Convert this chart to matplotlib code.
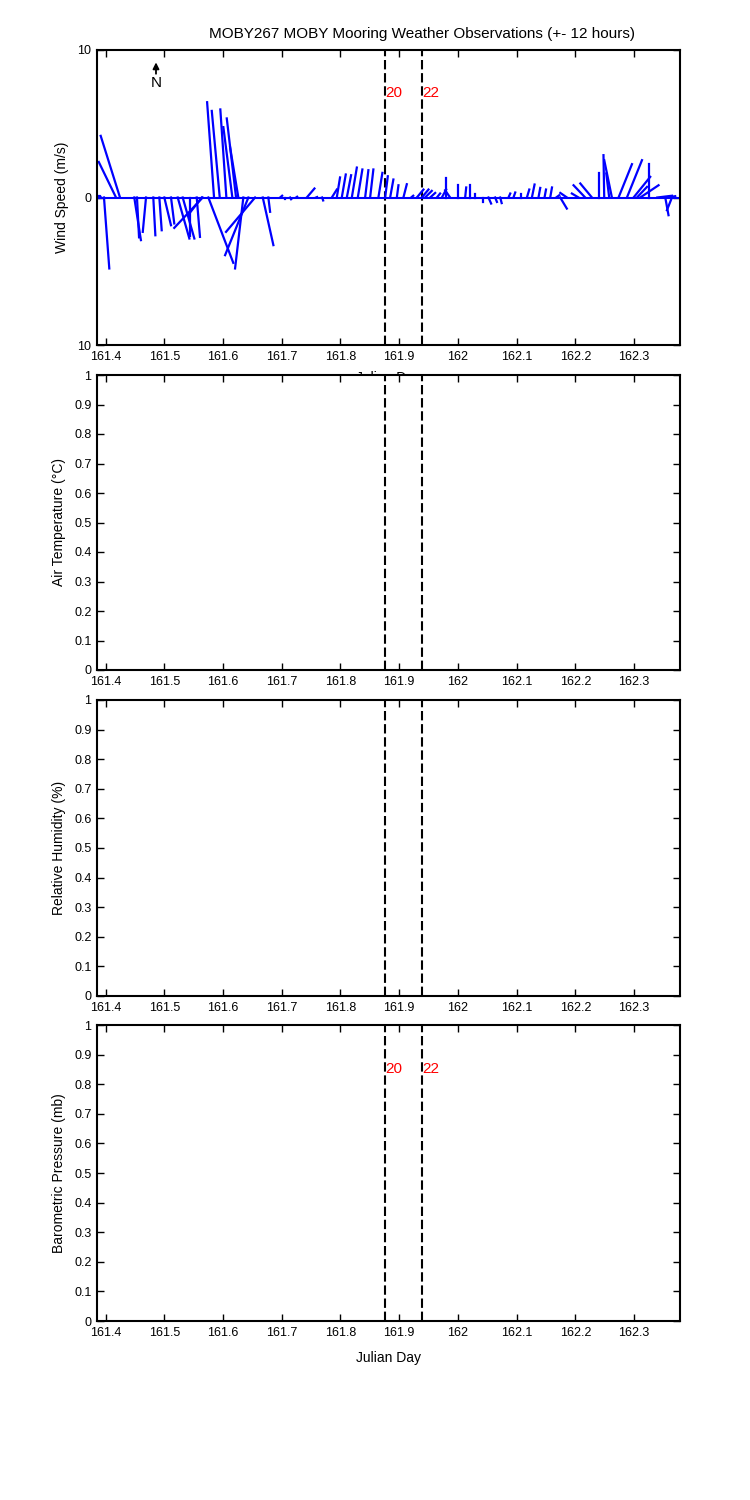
import numpy as np
import matplotlib
matplotlib.use("Agg")
import matplotlib.pyplot as plt

plt.rcParams['font.family'] = ['Liberation Sans', 'DejaVu Sans']

# wind observations: julian day, east (u) and north (v) components in m/s
wind_time = [161.3886, 161.3920, 161.3971, 161.4176, 161.4244, 161.4487, 161.4533,
             161.4687, 161.4811, 161.4914, 161.4999, 161.5113, 161.5227, 161.5312,
             161.5437, 161.5551, 161.5636, 161.5653, 161.5749, 161.5846, 161.5943,
             161.6056, 161.6158, 161.6221, 161.6260, 161.6345, 161.6431, 161.6545,
             161.6676, 161.6771, 161.6971, 161.7056, 161.7141, 161.7244, 161.7363,
             161.7426, 161.7584, 161.7687, 161.7852, 161.7937, 161.8022, 161.8108,
             161.8193, 161.8295, 161.8420, 161.8505, 161.8646, 161.8761, 161.8846,
             161.8960, 161.9072, 161.9204, 161.9301, 161.9386, 161.9442, 161.9528,
             161.9642, 161.9727, 161.9800, 161.9868, 162.0010, 162.0124, 162.0209,
             162.0295, 162.0436, 162.0521, 162.0635, 162.0721, 162.0862, 162.0947,
             162.1079, 162.1176, 162.1261, 162.1373, 162.1476, 162.1573, 162.1675,
             162.1743, 162.1858, 162.2055, 162.2169, 162.2284, 162.2396, 162.2493,
             162.2578, 162.2624, 162.2737, 162.2880, 162.2993, 162.3051, 162.3107,
             162.3248, 162.3397, 162.3533, 162.3584, 162.3647]
wind_u = [0.00, -0.05, 0.36, -1.17, -1.31, 0.45, 0.14, -0.22, 0.14, 0.16, 0.45, 0.22,
          0.79, 0.79, 0.00, 0.22, -0.93, -1.93, 1.69, -0.47, -0.54, -0.41, -0.61, -0.63,
          -0.56, -0.56, -1.58, -1.97, 0.72, 0.12, 0.14, 0.00, 0.07, 0.07, 0.00, 0.52,
          0.07, 0.07, 0.34, 0.22, 0.27, 0.29, 0.34, 0.31, 0.22, 0.22, 0.27, 0.18, 0.22,
          0.11, 0.23, 0.14, 0.45, 0.45, 0.45, 0.34, 0.22, 0.29, 0.00, -0.34, 0.00, 0.07,
          0.00, 0.00, 0.00, 0.18, 0.12, 0.10, 0.12, 0.12, 0.00, 0.16, 0.18, 0.12, 0.10,
          0.12, 0.20, 0.45, -0.45, -0.45, -0.79, -0.79, 0.00, -0.05, -0.20, -0.52, 0.91,
          1.02, 1.13, 0.68, 1.24, 0.00, 1.00, 0.22, 0.47, -0.34]
wind_v = [0.10, 0.08, -4.81, 2.41, 4.18, -2.89, -2.70, -2.33, -2.56, -2.22, -1.88, -1.76,
          -2.78, -2.78, -2.62, -2.67, -1.20, -2.06, -4.43, 6.46, 5.87, 5.97, 4.77, 5.36,
          3.41, -4.81, -3.91, -2.33, -3.23, -0.97, 0.12, -0.08, -0.12, 0.05, -0.05, 0.61,
          0.03, -0.20, 0.54, 1.36, 1.56, 1.51, 2.03, 1.90, 1.85, 1.90, 1.67, 1.44, 1.22,
          0.83, 0.90, 0.12, 0.54, 0.54, 0.45, 0.31, 0.27, 0.54, 1.29, 0.49, 0.83, 0.68,
          0.83, 0.22, -0.30, -0.41, -0.30, -0.38, 0.27, 0.34, 0.22, 0.54, 0.88, 0.65, 0.54,
          0.68, 0.15, -0.75, 0.31, 0.27, 0.83, 0.95, 1.63, 2.87, 1.63, 2.53, 2.26, 2.53,
          1.40, 0.72, 0.83, 2.26, 0.12, -1.20, 0.09, -0.86]

# marker lines (hour labels)
mark_time = [161.876, 161.939]
mark_label = ['20', '22']

x_lim = (161.3852, 162.3784)
x_ticks = [161.4, 161.5, 161.6, 161.7, 161.8, 161.9, 162.0, 162.1, 162.2, 162.3]
x_ticklabels = ['161.4', '161.5', '161.6', '161.7', '161.8', '161.9', '162',
                '162.1', '162.2', '162.3']
y_labels = ['Wind Speed (m/s)', 'Air Temperature (°C)', 'Relative Humidity (%)',
            'Barometric Pressure (mb)']
title = 'MOBY267 MOBY Mooring Weather Observations (+- 12 hours)'

fig = plt.figure(figsize=(7.5, 15), dpi=100)
W, H = 750.0, 1500.0
left, right = 97, 680
panel_px = [(50, 345), (375, 670), (700, 996), (1025, 1321)]

axes = []
for top, bot in panel_px:
    ax = fig.add_axes([left / W, 1 - bot / H, (right - left) / W, (bot - top) / H])
    axes.append(ax)

for i, ax in enumerate(axes):
    ax.set_xlim(x_lim)
    ax.set_xticks(x_ticks)
    ax.set_xticklabels(x_ticklabels)
    ax.tick_params(direction='in', length=5, width=1, top=True, right=True,
                   labelsize=9, pad=4)
    for s in ax.spines.values():
        s.set_linewidth(1.5)
    ax.set_ylabel(y_labels[i], fontsize=10, labelpad=6)
    for t in mark_time:
        ax.axvline(t, color='k', lw=1.5, linestyle=(0, (4.5, 1.8)))
    if i > 0:
        ax.set_ylim(0, 1)
        ax.set_yticks(np.arange(0, 1.01, 0.1))
        ax.set_yticklabels(['0', '0.1', '0.2', '0.3', '0.4', '0.5', '0.6', '0.7',
                            '0.8', '0.9', '1'])

# wind stick plot
ax = axes[0]
ax.set_ylim(-10, 10)
ax.set_yticks([-10, 0, 10])
ax.set_yticklabels(['10', '0', '10'])
ax_w = right - left
ax_h = panel_px[0][1] - panel_px[0][0]
k = (x_lim[1] - x_lim[0]) / ax_w * ax_h / 20.0  # days per m/s, isotropic sticks
t = np.array(wind_time)
u = np.array(wind_u)
v = np.array(wind_v)
ax.axhline(0, color='b', lw=1.5)
ax.plot(np.vstack([t, t + u * k]), np.vstack([np.zeros_like(v), v]), color='b', lw=1.6)
ax.annotate('', xy=(161.4857, 9.35), xytext=(161.4857, 8.2),
            arrowprops=dict(arrowstyle='-|>', color='k', lw=1.3, mutation_scale=9))
ax.text(161.4857, 7.75, 'N', ha='center', va='center', fontsize=11)
for tm, lb in zip(mark_time, mark_label):
    ax.text(tm + 0.0005, 7.06, lb, color='r', ha='left', va='center', fontsize=11)
# this label ends up mostly hidden behind the panel below, as in the original
ax.set_xlabel('Julian Day', fontsize=10, labelpad=6)

ax = axes[3]
for tm, lb in zip(mark_time, mark_label):
    ax.text(tm + 0.0005, 0.853, lb, color='r', ha='left', va='center', fontsize=11)
ax.set_xlabel('Julian Day', fontsize=10, labelpad=9)

fig.text(422 / W, 1 - 34 / H, title, ha='center', va='center', fontsize=11)

fig.savefig('out.png', dpi=100)
